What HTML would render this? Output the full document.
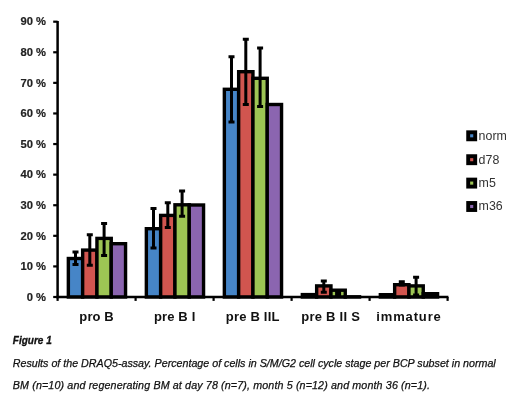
<!DOCTYPE html>
<html><head><meta charset="utf-8"><title>Figure 1</title>
<style>
html,body{margin:0;padding:0;background:#fff;}
body{width:520px;height:408px;position:relative;overflow:hidden;font-family:"Liberation Sans",sans-serif;color:#111;}
.t{position:absolute;white-space:nowrap;line-height:1;filter:blur(0.3px);}
.yl{font-weight:bold;font-size:11.2px;color:#222;-webkit-text-stroke:0.2px #222;}
.xl{font-weight:bold;font-size:13px;color:#111;transform:translateX(-50%);}
.lg{font-size:12.4px;left:478.6px;color:#333;}
.cap{font-style:italic;font-size:10.7px;left:12.8px;color:#111;-webkit-text-stroke:0.25px #111;}
</style></head><body>

<svg width="520" height="408" viewBox="0 0 520 408" style="position:absolute;left:0;top:0;filter:blur(0.55px)">
<rect x="68.35" y="258.50" width="14.30" height="38.50" fill="#4685c7" stroke="#000" stroke-width="3.4"/>
<rect x="82.65" y="250.10" width="14.30" height="46.90" fill="#d1554f" stroke="#000" stroke-width="3.4"/>
<rect x="96.95" y="238.40" width="14.30" height="58.60" fill="#9dc554" stroke="#000" stroke-width="3.4"/>
<rect x="111.25" y="243.70" width="14.30" height="53.30" fill="#8b65b0" stroke="#000" stroke-width="3.4"/>
<path d="M75.50 251.90V264.50" stroke="#000" stroke-width="3.0" fill="none"/>
<path d="M72.50 251.90H78.50M72.50 264.50H78.50" stroke="#000" stroke-width="3.0" fill="none"/>
<path d="M89.80 234.80V265.20" stroke="#000" stroke-width="3.0" fill="none"/>
<path d="M86.80 234.80H92.80M86.80 265.20H92.80" stroke="#000" stroke-width="3.0" fill="none"/>
<path d="M104.10 223.50V255.40" stroke="#000" stroke-width="3.0" fill="none"/>
<path d="M101.10 223.50H107.10M101.10 255.40H107.10" stroke="#000" stroke-width="3.0" fill="none"/>
<rect x="146.35" y="228.70" width="14.30" height="68.30" fill="#4685c7" stroke="#000" stroke-width="3.4"/>
<rect x="160.65" y="215.40" width="14.30" height="81.60" fill="#d1554f" stroke="#000" stroke-width="3.4"/>
<rect x="174.95" y="204.80" width="14.30" height="92.20" fill="#9dc554" stroke="#000" stroke-width="3.4"/>
<rect x="189.25" y="205.00" width="14.30" height="92.00" fill="#8b65b0" stroke="#000" stroke-width="3.4"/>
<path d="M153.50 208.50V248.10" stroke="#000" stroke-width="3.0" fill="none"/>
<path d="M150.50 208.50H156.50M150.50 248.10H156.50" stroke="#000" stroke-width="3.0" fill="none"/>
<path d="M167.80 202.70V227.50" stroke="#000" stroke-width="3.0" fill="none"/>
<path d="M164.80 202.70H170.80M164.80 227.50H170.80" stroke="#000" stroke-width="3.0" fill="none"/>
<path d="M182.10 190.90V216.30" stroke="#000" stroke-width="3.0" fill="none"/>
<path d="M179.10 190.90H185.10M179.10 216.30H185.10" stroke="#000" stroke-width="3.0" fill="none"/>
<rect x="224.35" y="89.30" width="14.30" height="207.70" fill="#4685c7" stroke="#000" stroke-width="3.4"/>
<rect x="238.65" y="71.70" width="14.30" height="225.30" fill="#d1554f" stroke="#000" stroke-width="3.4"/>
<rect x="252.95" y="78.30" width="14.30" height="218.70" fill="#9dc554" stroke="#000" stroke-width="3.4"/>
<rect x="267.25" y="104.50" width="14.30" height="192.50" fill="#8b65b0" stroke="#000" stroke-width="3.4"/>
<path d="M231.50 56.70V122.10" stroke="#000" stroke-width="3.0" fill="none"/>
<path d="M228.50 56.70H234.50M228.50 122.10H234.50" stroke="#000" stroke-width="3.0" fill="none"/>
<path d="M245.80 39.30V104.50" stroke="#000" stroke-width="3.0" fill="none"/>
<path d="M242.80 39.30H248.80M242.80 104.50H248.80" stroke="#000" stroke-width="3.0" fill="none"/>
<path d="M260.10 47.90V106.50" stroke="#000" stroke-width="3.0" fill="none"/>
<path d="M257.10 47.90H263.10M257.10 106.50H263.10" stroke="#000" stroke-width="3.0" fill="none"/>
<rect x="302.35" y="294.60" width="14.30" height="2.40" fill="#4685c7" stroke="#000" stroke-width="3.4"/>
<rect x="316.65" y="285.90" width="14.30" height="11.10" fill="#d1554f" stroke="#000" stroke-width="3.4"/>
<rect x="330.95" y="290.20" width="14.30" height="6.80" fill="#9dc554" stroke="#000" stroke-width="3.4"/>
<rect x="345.25" y="296.80" width="14.30" height="0.20" fill="#8b65b0" stroke="#000" stroke-width="3.4"/>
<path d="M323.80 281.10V292.30" stroke="#000" stroke-width="3.0" fill="none"/>
<path d="M320.80 281.10H326.80M320.80 292.30H326.80" stroke="#000" stroke-width="3.0" fill="none"/>
<path d="M338.10 292.00V295.00" stroke="#000" stroke-width="3.0" fill="none"/>
<path d="M335.10 292.00H341.10M335.10 295.00H341.10" stroke="#000" stroke-width="3.0" fill="none"/>
<rect x="380.35" y="294.70" width="14.30" height="2.30" fill="#4685c7" stroke="#000" stroke-width="3.4"/>
<rect x="394.65" y="284.70" width="14.30" height="12.30" fill="#d1554f" stroke="#000" stroke-width="3.4"/>
<rect x="408.95" y="285.90" width="14.30" height="11.10" fill="#9dc554" stroke="#000" stroke-width="3.4"/>
<rect x="423.25" y="293.70" width="14.30" height="3.30" fill="#8b65b0" stroke="#000" stroke-width="3.4"/>
<path d="M401.80 281.80V285.00" stroke="#000" stroke-width="3.0" fill="none"/>
<path d="M398.80 281.80H404.80M398.80 285.00H404.80" stroke="#000" stroke-width="3.0" fill="none"/>
<path d="M416.10 277.30V295.00" stroke="#000" stroke-width="3.0" fill="none"/>
<path d="M413.10 277.30H419.10M413.10 295.00H419.10" stroke="#000" stroke-width="3.0" fill="none"/>
<path d="M57.6 20.89V298.30" stroke="#000" stroke-width="2.5" fill="none"/>
<path d="M56.300000000000004 297.0H448.40" stroke="#000" stroke-width="2.5" fill="none"/>
<path d="M53.2 297.00H57.6" stroke="#000" stroke-width="2.2"/>
<path d="M53.2 266.41H57.6" stroke="#000" stroke-width="2.2"/>
<path d="M53.2 235.82H57.6" stroke="#000" stroke-width="2.2"/>
<path d="M53.2 205.23H57.6" stroke="#000" stroke-width="2.2"/>
<path d="M53.2 174.64H57.6" stroke="#000" stroke-width="2.2"/>
<path d="M53.2 144.05H57.6" stroke="#000" stroke-width="2.2"/>
<path d="M53.2 113.46H57.6" stroke="#000" stroke-width="2.2"/>
<path d="M53.2 82.87H57.6" stroke="#000" stroke-width="2.2"/>
<path d="M53.2 52.28H57.6" stroke="#000" stroke-width="2.2"/>
<path d="M53.2 21.69H57.6" stroke="#000" stroke-width="2.2"/>
<path d="M57.60 297.0V300.9" stroke="#000" stroke-width="2.2"/>
<path d="M135.60 297.0V300.9" stroke="#000" stroke-width="2.2"/>
<path d="M213.60 297.0V300.9" stroke="#000" stroke-width="2.2"/>
<path d="M291.60 297.0V300.9" stroke="#000" stroke-width="2.2"/>
<path d="M369.60 297.0V300.9" stroke="#000" stroke-width="2.2"/>
<path d="M447.60 297.0V300.9" stroke="#000" stroke-width="2.2"/>
<rect x="468.2" y="132.3" width="7.0" height="7.0" fill="#4685c7" stroke="#000" stroke-width="3.9"/>
<rect x="468.2" y="156.20000000000002" width="7.0" height="7.0" fill="#d1554f" stroke="#000" stroke-width="3.9"/>
<rect x="468.2" y="179.6" width="7.0" height="7.0" fill="#9dc554" stroke="#000" stroke-width="3.9"/>
<rect x="468.2" y="203.0" width="7.0" height="7.0" fill="#8b65b0" stroke="#000" stroke-width="3.9"/>
</svg>
<div class="t yl" style="right:474px;top:291.7px">0 %</div>
<div class="t yl" style="right:474px;top:261.1px">10 %</div>
<div class="t yl" style="right:474px;top:230.5px">20 %</div>
<div class="t yl" style="right:474px;top:199.9px">30 %</div>
<div class="t yl" style="right:474px;top:169.3px">40 %</div>
<div class="t yl" style="right:474px;top:138.7px">50 %</div>
<div class="t yl" style="right:474px;top:108.2px">60 %</div>
<div class="t yl" style="right:474px;top:77.6px">70 %</div>
<div class="t yl" style="right:474px;top:47.0px">80 %</div>
<div class="t yl" style="right:474px;top:16.4px">90 %</div>
<div class="t xl" style="left:96.6px;top:310.0px;letter-spacing:0.1px">pro B</div>
<div class="t xl" style="left:174.7px;top:310.0px;letter-spacing:0.15px">pre B I</div>
<div class="t xl" style="left:252.7px;top:310.0px;letter-spacing:0.2px">pre B IIL</div>
<div class="t xl" style="left:330.7px;top:310.0px;letter-spacing:0.25px">pre B II S</div>
<div class="t xl" style="left:409.0px;top:310.0px;letter-spacing:0.85px">immature</div>
<div class="t lg" style="top:129.7px">norm</div>
<div class="t lg" style="top:153.6px">d78</div>
<div class="t lg" style="top:177.0px">m5</div>
<div class="t lg" style="top:200.4px">m36</div>
<div class="t cap" style="top:336px;font-weight:bold;font-size:10px;-webkit-text-stroke:0.3px #111">Figure 1</div>
<div class="t cap" id="c1" style="top:357.7px">Results of the DRAQ5-assay. Percentage of cells in S/M/G2 cell cycle stage per BCP subset in normal</div>
<div class="t cap" id="c2" style="top:379.5px;letter-spacing:0.135px">BM (n=10) and regenerating BM at day 78 (n=7), month 5 (n=12) and month 36 (n=1).</div>
</body></html>
